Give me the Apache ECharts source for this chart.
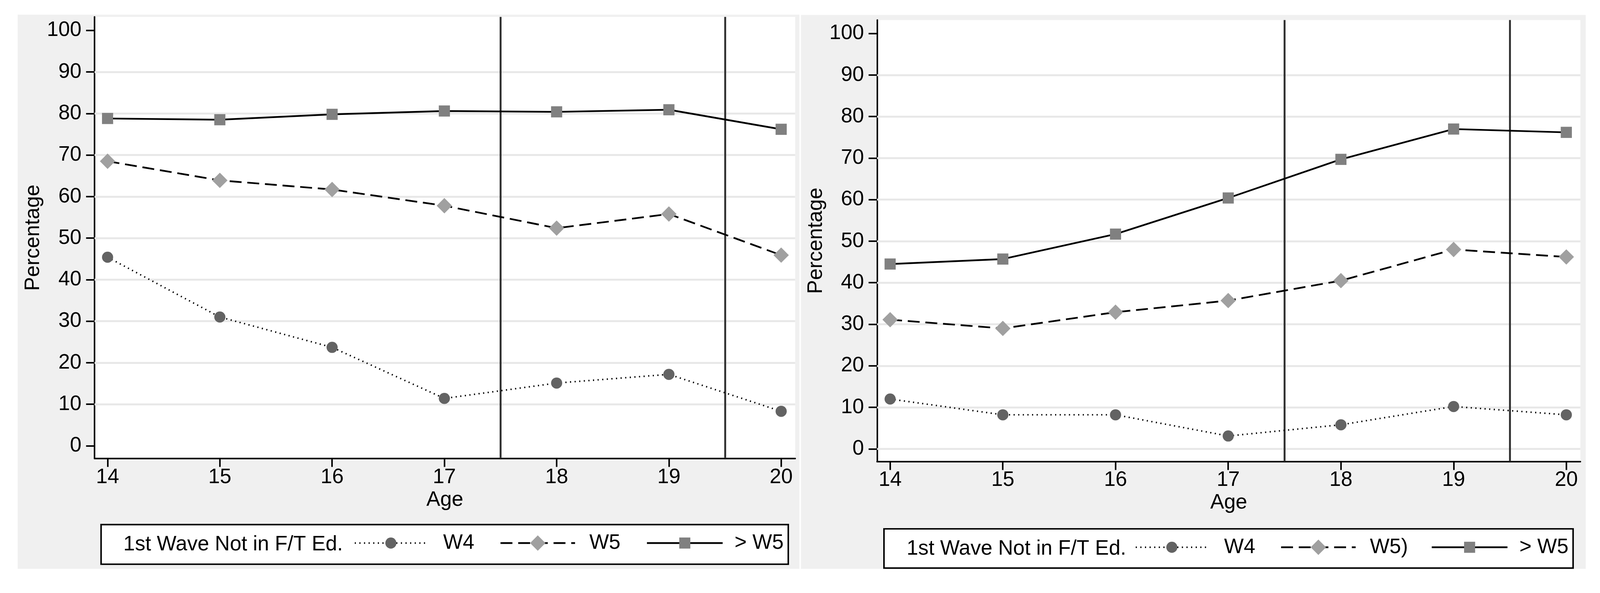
<!DOCTYPE html>
<html>
<head>
<meta charset="utf-8">
<script src="https://cdn.jsdelivr.net/npm/echarts@6/dist/echarts.min.js"></script>
<style>
html,body{margin:0;padding:0;background:#fff;overflow:hidden;}
#chart{width:100vw;height:100vh;}
</style>
</head>
<body>
<div id="chart"></div>
<script>
// ---- data ----
const ages = [14, 15, 16, 17, 18, 19, 20];
const leftW4 = [45.4, 31.0, 23.7, 11.4, 15.1, 17.2, 8.3];
const leftW5 = [68.5, 63.9, 61.7, 57.8, 52.4, 55.8, 45.9];
const leftGtW5 = [78.8, 78.5, 79.8, 80.6, 80.4, 80.9, 76.2];
const rightW4 = [12.0, 8.2, 8.2, 3.1, 5.8, 10.2, 8.2];
const rightW5 = [31.1, 29.0, 32.9, 35.7, 40.5, 48.0, 46.2];
const rightGtW5 = [44.5, 45.7, 51.7, 60.4, 69.7, 77.0, 76.2];
const yTicks = [0, 10, 20, 30, 40, 50, 60, 70, 80, 90, 100];
const xTicks = [14, 15, 16, 17, 18, 19, 20];
const refLines = [17.5, 19.5];
const leftGridLines = [10, 20, 30, 40, 50, 60, 70, 80, 90];
const rightGridLines = [0, 10, 20, 30, 40, 50, 60, 70, 80, 90];
const legendTitle = '1st Wave Not in F/T Ed.';
const leftNames = ['W4', 'W5', '> W5'];
const rightNames = ['W4', 'W5)', '> W5'];

// ---- layout scaling (design size 4163 x 1517, uniform by width) ----
const el = document.getElementById('chart');
const W = el.clientWidth || 4163, H = el.clientHeight || 1517;
const s = W / 4163;
const X = v => v * s, Y = v => v * s, S = v => v * s;

const FONT = '"Liberation Sans", Arial, sans-serif';
const FS = S(54);
const styles = [
  {symbol: 'circle', size: S(29), color: '#636363', line: {color: '#000', width: S(4), type: [S(3), S(9)]}},
  {symbol: 'diamond', size: S(40), color: '#a0a0a0', line: {color: '#000', width: S(4.5), type: [S(31), S(15)]}},
  {symbol: 'rect', size: S(29), color: '#808080', line: {color: '#000', width: S(4.5), type: 'solid'}}
];

const grids = [
  {left: X(246), top: Y(44), width: X(1823), height: Y(1148), show: true, backgroundColor: '#ffffff', borderWidth: 0},
  {left: X(2282), top: Y(52), width: X(1830), height: Y(1148), show: true, backgroundColor: '#ffffff', borderWidth: 0}
];

function xAxisFor(i) {
  return {
    type: 'value', gridIndex: i, min: 13.884, max: 20.125,
    name: 'Age', nameLocation: 'middle', nameGap: Y(76),
    nameTextStyle: {fontFamily: FONT, fontSize: FS, color: '#000'},
    axisLine: {show: true, onZero: false, lineStyle: {color: '#000', width: S(4)}},
    axisTick: {show: true, length: S(22), lineStyle: {color: '#000', width: S(4)}, customValues: xTicks},
    axisLabel: {show: true, fontFamily: FONT, fontSize: FS, color: '#000', margin: Y(22), customValues: xTicks},
    splitLine: {show: false}
  };
}
function yAxisFor(i) {
  return {
    type: 'value', gridIndex: i, min: -3.05, max: 103.25,
    name: 'Percentage', nameLocation: 'middle', nameGap: X(132), nameRotate: 90,
    nameTextStyle: {fontFamily: FONT, fontSize: FS, color: '#000'},
    axisLine: {show: true, onZero: false, lineStyle: {color: '#000', width: S(4)}},
    axisTick: {show: true, length: S(22), lineStyle: {color: '#000', width: S(4)}, customValues: yTicks},
    axisLabel: {show: true, fontFamily: FONT, fontSize: FS, color: '#000', margin: X(34), customValues: yTicks},
    splitLine: {show: false}
  };
}

function zip(xs, ys) { return xs.map((x, k) => [x, ys[k]]); }

function helperSeries(i, gridVals) {
  return [{
    type: 'line', xAxisIndex: i, yAxisIndex: i, data: [], z: 1, silent: true,
    markLine: {
      z: 1, silent: true, symbol: 'none', animation: false, label: {show: false},
      lineStyle: {color: '#e8e8e8', width: S(5), type: 'solid'},
      emphasis: {disabled: true},
      data: gridVals.map(v => ({yAxis: v}))
    }
  }, {
    type: 'line', xAxisIndex: i, yAxisIndex: i, data: [], z: 2, silent: true,
    markLine: {
      z: 2, silent: true, symbol: 'none', animation: false, label: {show: false},
      lineStyle: {color: '#333333', width: S(5), type: 'solid'},
      emphasis: {disabled: true},
      data: refLines.map(v => ({xAxis: v}))
    }
  }];
}

function dataSeries(i, names, sets) {
  return sets.map((vals, k) => ({
    name: names[k], type: 'line', xAxisIndex: i, yAxisIndex: i, z: 3,
    data: zip(ages, vals),
    symbol: styles[k].symbol, symbolSize: styles[k].size, showSymbol: true,
    itemStyle: {color: styles[k].color, borderWidth: 0},
    lineStyle: styles[k].line,
    emphasis: {disabled: true}
  }));
}

const series = [].concat(
  helperSeries(0, leftGridLines),
  helperSeries(1, rightGridLines),
  dataSeries(0, leftNames, [leftW4, leftW5, leftGtW5]),
  dataSeries(1, rightNames, [rightW4, rightW5, rightGtW5])
);

// legends: one per item for exact placement
const legendItemGeom = [
  {w: 188, h: 36, gap: 37},
  {w: 194, h: 50, gap: 32},
  {w: 197, h: 36, gap: 26}
];
function legendsFor(names, lefts, centerY) {
  return names.map((n, k) => ({
    data: [n], left: X(lefts[k]), top: Y(centerY - 31), padding: 0, orient: 'horizontal',
    selectedMode: false, itemWidth: X(legendItemGeom[k].w), itemHeight: S(legendItemGeom[k].h),
    textStyle: {fontFamily: FONT, fontSize: FS, color: '#000', padding: [0, 0, 0, X(legendItemGeom[k].gap)]},
    lineStyle: {type: 'inherit', width: 'inherit'}
  }));
}
const legends = [].concat(
  legendsFor(leftNames, [921, 1300, 1681], 1416),
  legendsFor(rightNames, [2953, 3331, 3723], 1427)
);

const graphic = [
  {type: 'rect', z: -100, shape: {x: X(46), y: Y(38), width: X(2034), height: Y(1441)}, style: {fill: '#f0f0f0'}},
  {type: 'rect', z: -100, shape: {x: X(2084), y: Y(39), width: X(2042), height: Y(1440)}, style: {fill: '#f0f0f0'}},
  {type: 'rect', z: 0, shape: {x: X(263), y: Y(1364), width: X(1788), height: Y(103)}, style: {fill: '#fff', stroke: '#000', lineWidth: S(4)}},
  {type: 'rect', z: 0, shape: {x: X(2300), y: Y(1375), width: X(1793), height: Y(102)}, style: {fill: '#fff', stroke: '#000', lineWidth: S(4)}},
  {type: 'text', z: 1, x: X(321), y: Y(1416), style: {text: legendTitle, fill: '#000', font: FS + 'px ' + FONT, verticalAlign: 'middle', align: 'left'}},
  {type: 'text', z: 1, x: X(2359), y: Y(1427), style: {text: legendTitle, fill: '#000', font: FS + 'px ' + FONT, verticalAlign: 'middle', align: 'left'}}
];

const chart = echarts.init(el, null, {renderer: 'canvas', width: W, height: H});
chart.setOption({
  backgroundColor: '#ffffff',
  animation: false,
  grid: grids,
  xAxis: [xAxisFor(0), xAxisFor(1)],
  yAxis: [yAxisFor(0), yAxisFor(1)],
  legend: legends,
  graphic: graphic,
  series: series
});
</script>
</body>
</html>
